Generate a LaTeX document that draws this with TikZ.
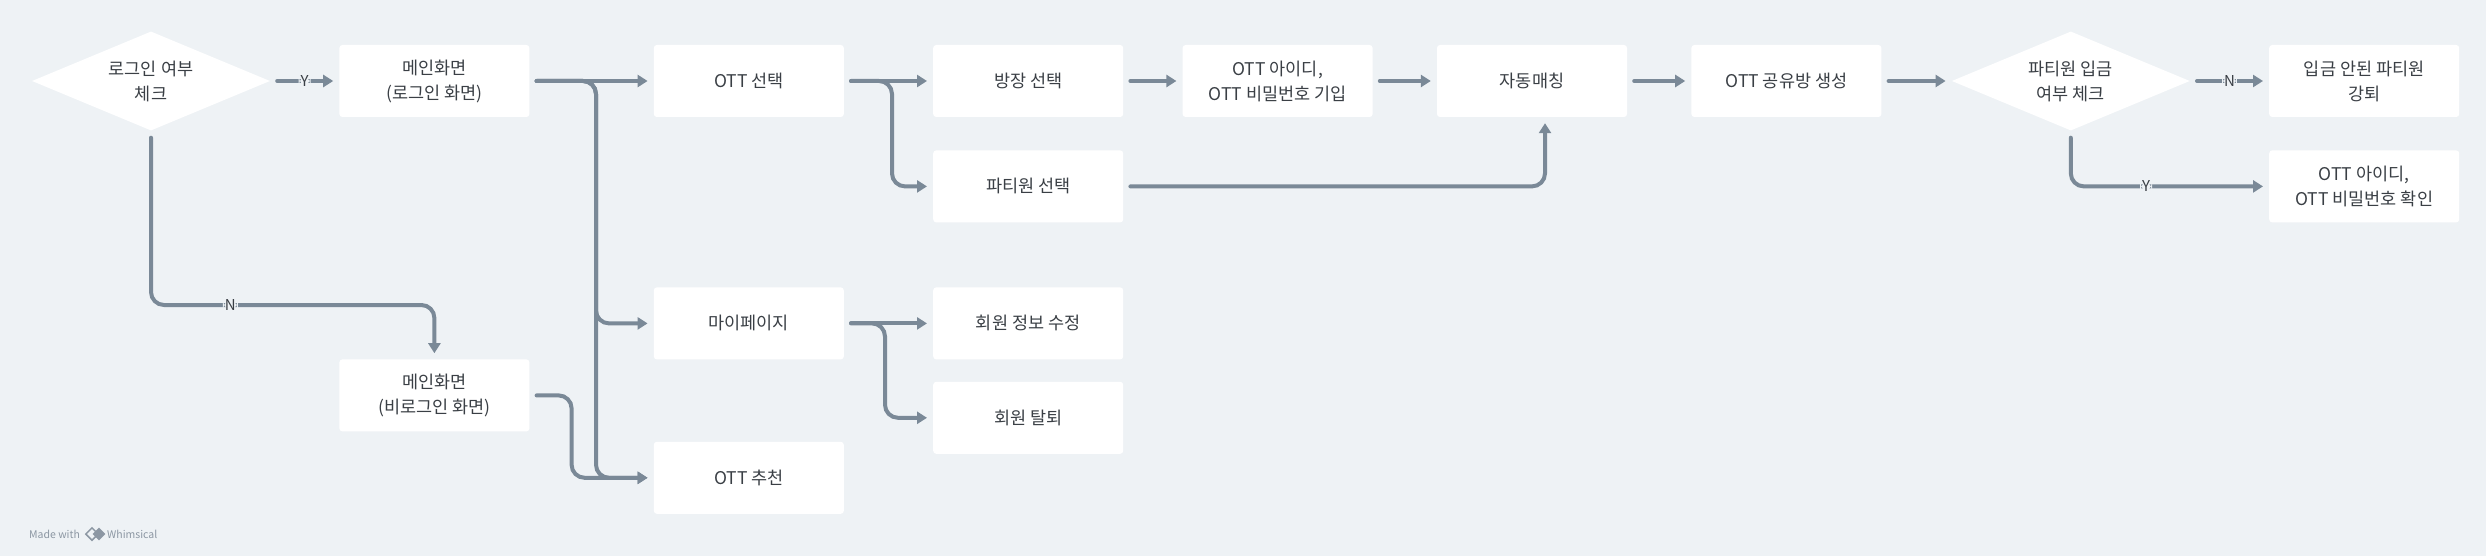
\documentclass[tikz,border=0pt]{standalone}
\usepackage{fontspec}
\setmainfont{Noto Sans CJK KR}
\usetikzlibrary{positioning,shapes.geometric,arrows.meta}

\definecolor{bgcol}{HTML}{EEF2F5}
\definecolor{linecol}{HTML}{7A8997}
\definecolor{txtcol}{HTML}{3A3F45}
\definecolor{markcol}{HTML}{8C97A3}

\begin{document}
\begin{tikzpicture}[
                x=1pt, y=-1pt,                % 픽셀 좌표 (아래쪽이 +)
                font=\fontsize{17.5}{25}\selectfont,
                text=txtcol,
                box/.style={
                    rectangle,
                    fill=white,
                    rounded corners=3pt,
                    minimum width=190pt,
                    minimum height=72pt,
                    align=center,
                    inner sep=0pt
                },
                check/.style={
                    diamond,
                    fill=white,
                    aspect=2.4,
                    minimum width=238pt,
                    minimum height=99pt,
                    align=center,
                    inner sep=0pt
                },
                flow/.style={
                    -{Triangle[length=10pt,width=12pt]},
                    draw=linecol, line width=4pt, line cap=round,
                    rounded corners=13pt,
                    shorten <=7pt, shorten >=6pt
                },
                yn/.style={fill=bgcol, inner sep=2pt, font=\fontsize{15}{15}\selectfont},
                wmark/.style={text=markcol, inner sep=0pt, font=\fontsize{10.5}{12}\selectfont}
            ]
                % 배경
                \fill[bgcol] (0,0) rectangle (2486,556);

                % 노드 - 첫 줄
                \node[check] (chk1) at (151,81) {로그인 여부\\체크};
                \node[box] (main1) [right=69pt of chk1] {메인화면\\(로그인 화면)};
                \node[box] (ott) [right=124pt of main1] {OTT 선택};
                \node[box] (bang) [right=89pt of ott] {방장 선택};
                \node[box] (idin) [right=59pt of bang] {OTT 아이디,\\OTT 비밀번호 기입};
                \node[box] (auto) [right=64pt of idin] {자동매칭};
                \node[box] (room) [right=64pt of auto] {OTT 공유방 생성};
                \node[check] (chk2) [right=70pt of room] {파티원 입금\\여부 체크};
                \node[box] (kick) [right=79pt of chk2] {입금 안된 파티원\\강퇴};

                % 노드 - 아래쪽
                \node[box] (party) [below=33pt of bang] {파티원 선택};
                \node[box] (idchk) [below=33pt of kick] {OTT 아이디,\\OTT 비밀번호 확인};
                \node[box] (mypage) [below=170pt of ott] {마이페이지};
                \node[box] (ottrec) [below=82pt of mypage] {OTT 추천};
                \node[box] (edit) [right=89pt of mypage] {회원 정보 수정};
                \node[box] (quit) [below=22pt of edit] {회원 탈퇴};
                \node[box] (main2) [below=242pt of main1] {메인화면\\(비로그인 화면)};

                \coordinate (trunk) at (596,0);
                \coordinate (nbend) at (0,305);
                \coordinate (autoin) at ([xshift=13pt]auto.south);

                % 연결선
                \draw[flow] (chk1) -- node[yn] {Y} (main1);
                \draw[flow] (chk1.south) |- node[yn, pos=0.64] {N} (main2.north |- nbend) -- (main2.north);
                \draw[flow] (main1) -- (ott);
                \draw[flow] (main1.east) -| (trunk |- mypage) -- (mypage);
                \draw[flow] (main1.east) -| (trunk |- ottrec) -- (ottrec);
                \draw[flow] (main2.east) -- ++(42,0) |- (ottrec);
                \draw[flow] (ott) -- (bang);
                \draw[flow] (ott.east) -- ++(48,0) |- (party);
                \draw[flow] (bang) -- (idin);
                \draw[flow] (idin) -- (auto);
                \draw[flow] (party) -| (autoin);
                \draw[flow] (auto) -- (room);
                \draw[flow] (room) -- (chk2);
                \draw[flow] (chk2) -- node[yn] {N} (kick);
                \draw[flow] (chk2.south) |- node[yn, pos=0.69] {Y} (idchk);
                \draw[flow] (mypage) -- (edit);
                \draw[flow] (mypage.east) -- ++(41,0) |- (quit);

                % 워터마크
                \node[wmark, anchor=west] (made) at (29,534) {Made with};
                \node[diamond, draw=markcol, line width=1.5pt, minimum size=13pt, inner sep=0pt] (logoa) at (92,534) {};
                \node[diamond, fill=markcol, minimum size=13pt, inner sep=0pt] (logob) at (99,534) {};
                \node[wmark, anchor=west] (whim) at (107,534) {Whimsical};
            \end{tikzpicture}
\end{document}
